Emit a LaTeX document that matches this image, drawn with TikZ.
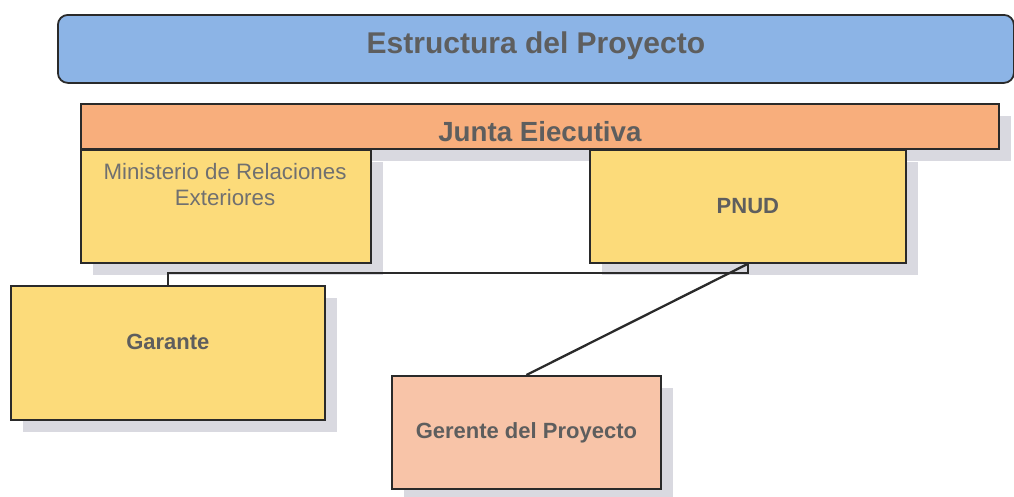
\documentclass[tikz,border=0pt]{standalone}
\usepackage{fontspec}
\setmainfont{Liberation Sans}
\usetikzlibrary{shadows}
\definecolor{titlefill}{HTML}{8CB4E6}
\definecolor{juntafill}{HTML}{F8AE7C}
\definecolor{yellowfill}{HTML}{FCDB7A}
\definecolor{gerfill}{HTML}{F8C4A8}
\definecolor{shadowc}{HTML}{D9D9E0}
\definecolor{txtc}{HTML}{5E5E5E}
\definecolor{mintxtc}{HTML}{707070}
\definecolor{linec}{HTML}{2A2A2A}
\tikzset{
  box/.style={draw=linec, line width=1.8pt, inner sep=0pt, anchor=north west},
  shbox/.style={box, drop shadow={shadow xshift=12pt, shadow yshift=-12pt, fill=shadowc, opacity=1}},
  boldtxt/.style={text=txtc, font=\fontsize{22}{26}\selectfont\bfseries, inner sep=0pt},
  normtxt/.style={text=mintxtc, font=\fontsize{22.3}{26}\selectfont, inner sep=0pt, align=center},
  conn/.style={draw=linec, line width=2.3pt},
}
\begin{document}
\begin{tikzpicture}[x=1pt, y=-1pt]
\useasboundingbox (0,0) rectangle (1014,496);
% title
\node[box, fill=titlefill, rounded corners=10pt, minimum width=956pt, minimum height=68pt] (title) at (57,14) {};
\node[text=txtc, font=\fontsize{30}{34}\selectfont\bfseries, inner sep=0pt] (titletxt) at ([yshift=3.5pt]title.center) {Estructura del Proyecto};
% junta
\node[shbox, fill=juntafill, minimum width=918pt, minimum height=45pt] (junta) at (80,103) {};
\node[text=txtc, font=\fontsize{27.7}{32}\selectfont\bfseries, inner sep=0pt] (juntatxt) at ([yshift=-5.5pt]junta.center) {Junta Eiecutiva};
% ministerio
\node[shbox, fill=yellowfill, minimum width=290pt, minimum height=113pt] (min) at (80,149) {};
\node[normtxt] (mintxt) at (225,185) {Ministerio de Relaciones\\Exteriores};
% pnud
\node[shbox, fill=yellowfill, minimum width=316pt, minimum height=113pt] (pnud) at (589,149) {};
\node[boldtxt] (pnudtxt) at (pnud.center) {PNUD};
% garante
\node[shbox, fill=yellowfill, minimum width=314pt, minimum height=134pt] (gar) at (10,285) {};
\node[boldtxt] (gartxt) at ([yshift=11pt]gar.center) {Garante};
% gerente
\node[shbox, fill=gerfill, minimum width=269pt, minimum height=113pt] (ger) at (391,375) {};
\node[boldtxt] (gertxt) at (ger.center) {Gerente del Proyecto};
% connectors
\coordinate (bus) at (0,273);
\draw[conn] (gar.north) -- (gar.north |- bus) -- (pnud.south |- bus) -- (pnud.south);
\draw[conn] (pnud.south) -- (ger.north);
\end{tikzpicture}
\end{document}
